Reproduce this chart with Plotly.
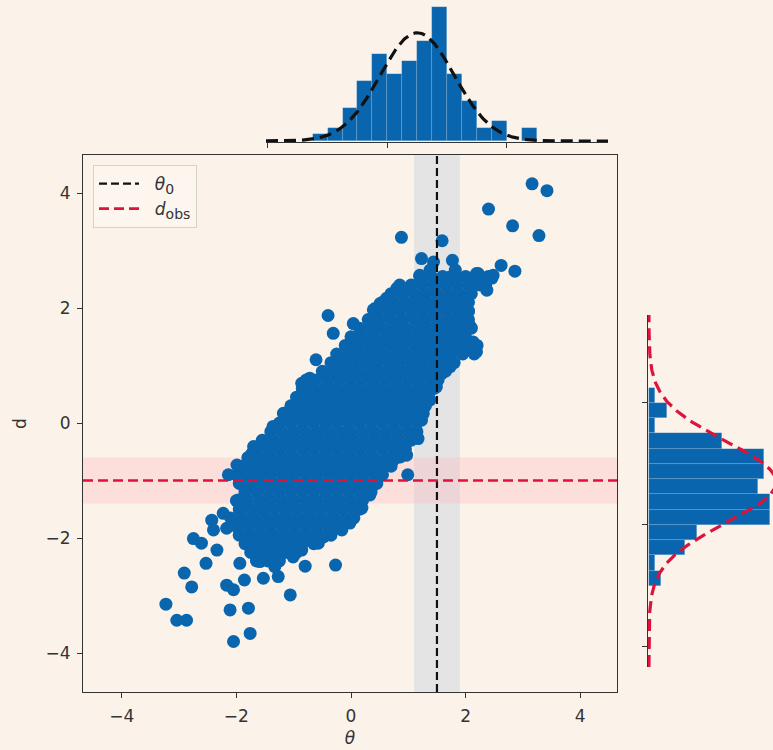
import numpy as np
import plotly.graph_objects as go

# ---- colours -------------------------------------------------------------
BG = "#FBF3E9"
BLUE = "#0965AE"
CRIMSON = "#DC143C"
INK = "#333333"

# ---- reference values ----------------------------------------------------
theta0, theta_tol = 1.5, 0.4      # true parameter and acceptance half-width
d_obs, d_tol = -1.0, 0.4          # observed datum and acceptance half-width

# ---- joint samples (theta, d) -------------------------------------------
# dense core of the cloud, one row per d level: (d, [theta values])
core_rows = [
    (2.55, [1.20, 1.40, 1.60, 1.80, 2.00, 2.20, 2.40]),
    (2.40, [0.85, 1.05, 1.25, 1.45, 1.65, 1.85, 2.05, 2.25, 2.35]),
    (2.25, [0.70, 0.90, 1.10, 1.30, 1.50, 1.70, 1.90, 2.10]),
    (2.10, [0.55, 0.75, 0.95, 1.15, 1.35, 1.55, 1.75, 1.95, 2.05]),
    (1.95, [0.45, 0.65, 0.85, 1.05, 1.25, 1.45, 1.65, 1.85, 2.05]),
    (1.80, [0.30, 0.50, 0.70, 0.90, 1.10, 1.30, 1.50, 1.70, 1.90, 2.05]),
    (1.65, [0.15, 0.35, 0.55, 0.75, 0.95, 1.15, 1.35, 1.55, 1.75, 1.95, 2.10]),
    (1.50, [0.00, 0.20, 0.40, 0.60, 0.80, 1.00, 1.20, 1.40, 1.60, 1.80, 2.00]),
    (1.35, [-0.10, 0.10, 0.30, 0.50, 0.70, 0.90, 1.10, 1.30, 1.50, 1.70, 1.90, 2.10, 2.20]),
    (1.20, [-0.25, -0.05, 0.15, 0.35, 0.55, 0.75, 0.95, 1.15, 1.35, 1.55, 1.75, 1.95, 2.15]),
    (1.05, [-0.35, -0.15, 0.05, 0.25, 0.45, 0.65, 0.85, 1.05, 1.25, 1.45, 1.65, 1.80]),
    (0.90, [-0.50, -0.30, -0.10, 0.10, 0.30, 0.50, 0.70, 0.90, 1.10, 1.30, 1.50, 1.65]),
    (0.75, [-0.78, -0.60, -0.40, -0.20, 0.00, 0.20, 0.40, 0.60, 0.80, 1.00, 1.20, 1.40, 1.52]),
    (0.60, [-0.85, -0.65, -0.45, -0.25, -0.05, 0.15, 0.35, 0.55, 0.75, 0.95, 1.15, 1.35, 1.45]),
    (0.45, [-0.95, -0.75, -0.55, -0.35, -0.15, 0.05, 0.25, 0.45, 0.65, 0.85, 1.05, 1.25, 1.35]),
    (0.30, [-1.05, -0.85, -0.65, -0.45, -0.25, -0.05, 0.15, 0.35, 0.55, 0.75, 0.95, 1.15, 1.30]),
    (0.15, [-1.15, -0.95, -0.75, -0.55, -0.35, -0.15, 0.05, 0.25, 0.45, 0.65, 0.85, 1.05, 1.25]),
    (0.00, [-1.25, -1.05, -0.85, -0.65, -0.45, -0.25, -0.05, 0.15, 0.35, 0.55, 0.75, 0.95, 1.15]),
    (-0.15, [-1.40, -1.20, -1.00, -0.80, -0.60, -0.40, -0.20, 0.00, 0.20, 0.40, 0.60, 0.80, 1.00, 1.15]),
    (-0.30, [-1.55, -1.35, -1.15, -0.95, -0.75, -0.55, -0.35, -0.15, 0.05, 0.25, 0.45, 0.65, 0.85, 1.05]),
    (-0.45, [-1.65, -1.45, -1.25, -1.05, -0.85, -0.65, -0.45, -0.25, -0.05, 0.15, 0.35, 0.55, 0.75, 0.95]),
    (-0.60, [-1.80, -1.60, -1.40, -1.20, -1.00, -0.80, -0.60, -0.40, -0.20, 0.00, 0.20, 0.40, 0.60, 0.80]),
    (-0.75, [-1.90, -1.70, -1.50, -1.30, -1.10, -0.90, -0.70, -0.50, -0.30, -0.10, 0.10, 0.30, 0.50, 0.70]),
    (-0.90, [-2.00, -1.80, -1.60, -1.40, -1.20, -1.00, -0.80, -0.60, -0.40, -0.20, 0.00, 0.20, 0.40, 0.55]),
    (-1.05, [-1.95, -1.75, -1.55, -1.35, -1.15, -0.95, -0.75, -0.55, -0.35, -0.15, 0.05, 0.25, 0.45]),
    (-1.20, [-1.85, -1.65, -1.45, -1.25, -1.05, -0.85, -0.65, -0.45, -0.25, -0.05, 0.15, 0.35]),
    (-1.35, [-2.00, -1.80, -1.60, -1.40, -1.20, -1.00, -0.80, -0.60, -0.40, -0.20, 0.00, 0.20]),
    (-1.50, [-1.95, -1.75, -1.55, -1.35, -1.15, -0.95, -0.75, -0.55, -0.35, -0.15, 0.05, 0.15]),
    (-1.65, [-2.10, -1.90, -1.70, -1.50, -1.30, -1.10, -0.90, -0.70, -0.50, -0.30, -0.10, 0.05]),
    (-1.80, [-2.00, -1.80, -1.60, -1.40, -1.20, -1.00, -0.80, -0.60, -0.40, -0.20]),
    (-1.95, [-1.95, -1.75, -1.55, -1.35, -1.15, -0.95, -0.75, -0.55, -0.35]),
    (-2.10, [-1.85, -1.65, -1.45, -1.25, -1.05, -0.85, -0.65]),
    (-2.25, [-1.75, -1.55, -1.35, -1.15, -0.95]),
    (-2.40, [-1.65, -1.45, -1.25]),
]

# scattered samples around the edge of the cloud
theta_edge = [
    3.16, 3.42, 2.40, 2.82, 3.28, 0.88, 1.59, 2.62, 2.86, 1.23, 1.77, 1.20,
    2.19, 2.46, 2.37, 2.22, 2.48, 1.44, 0.97, 0.80, 0.62, 0.42, 1.38, 1.82, 1.73, 2.11,
    -0.40, -0.31, -0.61, 0.04, 0.13, -0.86, -0.72, -1.18, -1.36, -1.70, 0.39, 0.51, 0.68,
    0.94, -0.19, -0.37, 1.15, 1.23,
    -3.23, -3.04, -2.87, -2.91, -2.78, -2.53, -2.75, -2.61, -2.43, -2.23, -2.40, -2.17,
    -2.34, -2.17, -2.05, -2.11, -1.79, -2.05, -1.76, -1.06, -1.86, -1.53, -1.27, -0.80,
    -0.27, -1.73, -1.99, -2.14, -1.76, -1.97, -1.59, -1.94, -1.33, -1.01, -0.86, -0.57,
    -0.48, -0.16,
    0.99, 0.97, 0.86, 1.17, 1.09, 1.12, 1.20, 0.19, -0.02, 0.33, 0.51, 0.74,
    1.58, 1.49, 1.38, 1.26, 1.73, 1.67, 1.84, 2.08, 2.05, 1.96, 2.13, 2.19, 2.13, 1.90,
    2.02, 2.05, 1.99, 1.90,
]
d_edge = [
    4.16, 4.04, 3.72, 3.43, 3.26, 3.23, 3.17, 2.74, 2.64, 2.86, 2.83, 2.57,
    2.60, 2.52, 2.31, 2.60, 2.57, 2.80, 2.34, 2.34, 2.17, 1.99, 2.66, 2.66, 2.54, 2.37,
    1.87, 1.56, 1.10, 1.73, 1.49, 0.69, 0.78, 0.17, -0.06, -0.41, 1.97, 2.08, 2.14,
    2.34, 1.01, 0.86, -0.24, 0.05,
    -3.15, -3.43, -3.43, -2.61, -2.85, -2.44, -2.01, -2.09, -1.69, -1.57, -1.86, -1.83,
    -2.21, -2.82, -2.90, -3.25, -3.22, -3.80, -3.66, -2.99, -2.73, -2.70, -2.67, -2.49,
    -2.47, -0.53, -0.73, -0.90, -0.87, -1.34, -2.41, -2.44, -2.50, -2.33, -2.21, -2.09,
    -1.98, -1.86,
    -0.90, -0.56, -0.59, -0.27, -0.24, 0.08, 0.40, -1.48, -1.74, -1.25, -0.85, -0.64,
    0.86, 0.63, 0.40, 0.17, 0.98, 1.33, 1.79, 1.68, 1.94, 2.14, 2.40, 1.24, 1.41, 1.44,
    1.33, 1.73, 2.14, 1.97,
]

# ---- marginal histograms -------------------------------------------------
top_bin_centers = [-1.125, -0.875, -0.625, -0.375, -0.125, 0.125, 0.375, 0.625,
                   0.875, 1.125, 1.375, 1.625, 1.875, 2.125, 2.375]
top_counts = [1, 2, 5, 9, 13, 10, 12, 15, 20, 10, 6, 2, 3, 0, 2]
top_fit_mu, top_fit_sd, top_fit_peak = 0.50, 0.62, 16.2

right_bin_centers = [2.125, 1.875, 1.625, 1.375, 1.125, 0.875, 0.625, 0.375,
                     0.125, -0.125, -0.375, -0.625, -0.875]
right_counts = [1, 3, 1, 12, 19, 19, 18, 20, 20, 8, 6, 1, 2]
right_fit_mu, right_fit_sd, right_fit_peak = 0.70, 0.67, 21.0
BIN_WIDTH = 0.25

# ---- axis extents --------------------------------------------------------
X_MAIN = (-4.677, 4.642)
Y_MAIN = (-4.678, 4.661)
X_TOP = (-2.03, 3.69)
Y_TOP = (-0.15, 21.1)
X_RIGHT = (-0.15, 20.5)
Y_RIGHT = (-2.33, 3.44)

W, H = 773, 750


def px_x(p):
    return p / W


def px_y(p):
    return 1 - p / H


theta_core = [t for d, ts in core_rows for t in ts]
d_core = [d for d, ts in core_rows for t in ts]
theta_all = theta_core + theta_edge
d_all = d_core + d_edge

fig = go.Figure()

# acceptance bands
fig.add_trace(go.Scatter(
    x=[theta0 - theta_tol, theta0 + theta_tol, theta0 + theta_tol, theta0 - theta_tol, theta0 - theta_tol],
    y=[Y_MAIN[0], Y_MAIN[0], Y_MAIN[1], Y_MAIN[1], Y_MAIN[0]],
    fill="toself", fillcolor="rgba(200,210,222,0.45)", mode="none",
    showlegend=False, hoverinfo="skip"))
fig.add_trace(go.Scatter(
    x=[X_MAIN[0], X_MAIN[1], X_MAIN[1], X_MAIN[0], X_MAIN[0]],
    y=[d_obs - d_tol, d_obs - d_tol, d_obs + d_tol, d_obs + d_tol, d_obs - d_tol],
    fill="toself", fillcolor="rgba(255,182,193,0.35)", mode="none",
    showlegend=False, hoverinfo="skip"))

# joint samples
fig.add_trace(go.Scatter(
    x=theta_all, y=d_all, mode="markers",
    marker=dict(size=13, color=BLUE, line=dict(width=0)),
    showlegend=False))

# reference lines
NB = "\u00a0\u00a0"
SUB = "<sub><span style='font-size:14px'>{}</span></sub>"
fig.add_trace(go.Scatter(
    x=[theta0, theta0], y=list(Y_MAIN), mode="lines",
    line=dict(color="#111111", width=2.2, dash="8px,4px"),
    name=NB + "<i>θ</i>" + SUB.format("0")))
fig.add_trace(go.Scatter(
    x=list(X_MAIN), y=[d_obs, d_obs], mode="lines",
    line=dict(color=CRIMSON, width=2.6, dash="10px,5px"),
    name=NB + "<i>d</i>" + SUB.format("obs")))

# top marginal
fig.add_trace(go.Bar(
    x=top_bin_centers, y=top_counts, width=BIN_WIDTH,
    marker=dict(color=BLUE, line=dict(color="rgba(255,255,255,0.2)", width=0.6)),
    xaxis="x2", yaxis="y2", showlegend=False))
tx = np.linspace(X_TOP[0], X_TOP[1], 300)
fig.add_trace(go.Scatter(
    x=tx, y=top_fit_peak * np.exp(-0.5 * ((tx - top_fit_mu) / top_fit_sd) ** 2),
    mode="lines", line=dict(color="#111111", width=3.2, dash="12px,6px"),
    xaxis="x2", yaxis="y2", showlegend=False))

# right marginal
fig.add_trace(go.Bar(
    y=right_bin_centers, x=right_counts, width=BIN_WIDTH, orientation="h",
    marker=dict(color=BLUE, line=dict(color="rgba(255,255,255,0.2)", width=0.6)),
    xaxis="x3", yaxis="y3", showlegend=False))
ry = np.linspace(Y_RIGHT[0], Y_RIGHT[1], 300)
fig.add_trace(go.Scatter(
    y=ry, x=right_fit_peak * np.exp(-0.5 * ((ry - right_fit_mu) / right_fit_sd) ** 2),
    mode="lines", line=dict(color=CRIMSON, width=3.2, dash="12px,6px"),
    xaxis="x3", yaxis="y3", showlegend=False))

FONT = "DejaVu Sans"
axis_common = dict(showgrid=False, zeroline=False, automargin=False,
                   showline=True, linecolor=INK, linewidth=1.1,
                   ticks="outside", ticklen=5, tickwidth=1.1, tickcolor=INK,
                   tickfont=dict(family=FONT, size=17, color=INK))

fig.update_layout(
    width=W, height=H,
    margin=dict(l=0, r=0, t=0, b=0),
    paper_bgcolor=BG, plot_bgcolor=BG,
    font=dict(family=FONT, color=INK),
    bargap=0,
    xaxis=dict(**axis_common, domain=[px_x(83), px_x(617)], range=list(X_MAIN),
               tickvals=[-4, -2, 0, 2, 4], mirror=True, anchor="y", ticklabelstandoff=4,
               title=dict(text="<i>θ</i>", font=dict(family=FONT, size=17, color=INK), standoff=6)),
    yaxis=dict(**axis_common, domain=[px_y(692), px_y(155)], range=list(Y_MAIN),
               tickvals=[-4, -2, 0, 2, 4], mirror=True, anchor="x", ticklabelstandoff=3,
               title=dict(text="d", font=dict(family=FONT, size=17, color=INK), standoff=14)),
    xaxis2=dict(**axis_common, domain=[px_x(266), px_x(608)], range=list(X_TOP),
                tickvals=[-2, 0, 2], showticklabels=False, anchor="y2"),
    yaxis2=dict(domain=[px_y(142), 1.0], range=list(Y_TOP), visible=False, anchor="x2"),
    xaxis3=dict(domain=[px_x(648), 1.0], range=list(X_RIGHT), visible=False, anchor="y3"),
    yaxis3=dict(**axis_common, domain=[px_y(667), px_y(315)], range=list(Y_RIGHT),
                tickvals=[-2, 0, 2], showticklabels=False, anchor="x3"),
    legend=dict(x=px_x(93), y=px_y(165), xanchor="left", yanchor="top",
                bgcolor="rgba(255,255,255,0.25)", bordercolor="#D5D2CC", borderwidth=1,
                itemwidth=40, font=dict(family=FONT, size=17, color=INK)),
)

fig.write_html("out.html")
